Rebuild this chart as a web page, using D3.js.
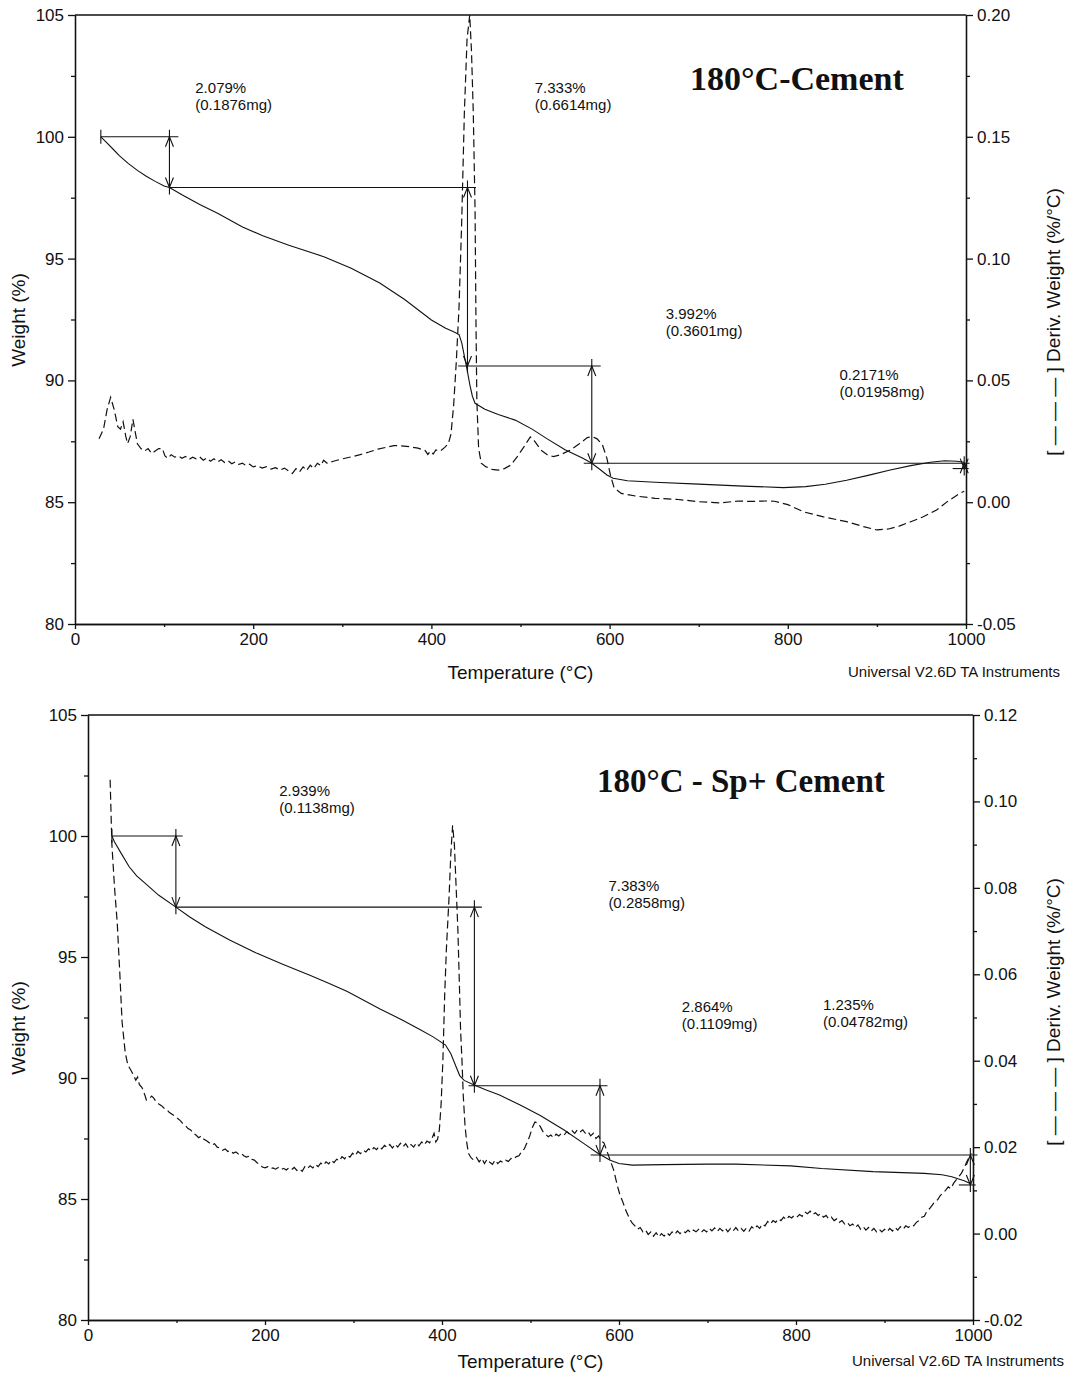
<!DOCTYPE html>
<html>
<head>
<meta charset="utf-8">
<script src="https://cdn.jsdelivr.net/npm/d3@7"></script>
<style>
body { margin: 0; background: #fff; }
</style>
</head>
<body>
<div id="chart"></div>
<script>
// shared ticks
let tempTicks = [0, 200, 400, 600, 800, 1000];
let tempMinor = [100, 300, 500, 700, 900];
let weightTicks = [80, 85, 90, 95, 100, 105];
let weightMinor = [82.5, 87.5, 92.5, 97.5, 102.5];

// ---- top panel: 180°C-Cement ----
let derivTicksA = [-0.05, 0, 0.05, 0.10, 0.15, 0.20];
let derivMinorA = [-0.025, 0.025, 0.075, 0.125, 0.175];

// weight (%) vs temperature (°C)
let tgaA = [[29,100.0],[35,99.78],[42,99.52],[50,99.22],[60,98.9],[70,98.62],[80,98.38],[90,98.17],[100,97.98],[106,97.92],
  [120,97.62],[140,97.22],[160,96.86],[188,96.3],[210,95.95],[240,95.55],[280,95.07],[310,94.6],[342,94.0],[370,93.32],
  [400,92.48],[416,92.14],[425,92.0],[431,91.88],[434,91.55],[437,91.0],[440,90.45],[443,89.85],[446,89.35],[449,89.06],
  [460,88.82],[475,88.6],[494,88.37],[513,88.0],[530,87.6],[550,87.15],[570,86.8],[580,86.6],[590,86.32],[597,86.12],
  [604,85.98],[620,85.88],[651,85.82],[700,85.74],[750,85.66],[795,85.6],[820,85.64],[842,85.74],[866,85.9],[890,86.1],
  [915,86.32],[938,86.5],[960,86.64],[976,86.7],[990,86.68],[998,86.64]];

// deriv. weight (%/°C) vs temperature
let dtgA = [[27,0.026],[32,0.030],[36,0.038],[40,0.043],[44,0.038],[48,0.031],[51,0.030],[54,0.033],[57,0.027],[59,0.024],
  [62,0.027],[65,0.034],[67,0.030],[70,0.024],[74,0.022],[78,0.021],[82,0.022],[86,0.020],[90,0.021],[94,0.022],
  [98,0.022],[101,0.019],[104,0.018],[108,0.0195],[112,0.0185],[116,0.019],[120,0.018],[124,0.0188],[128,0.0175],[132,0.0185],
  [136,0.0178],[140,0.0186],[144,0.0172],[148,0.0182],[152,0.0168],[156,0.0178],[160,0.0165],[164,0.0174],[168,0.0163],[172,0.0170],
  [176,0.0158],[180,0.0166],[184,0.0155],[188,0.0160],[192,0.0150],[196,0.0156],[200,0.0145],[205,0.0150],[210,0.0140],[215,0.0146],
  [220,0.0136],[225,0.0142],[230,0.0132],[235,0.0140],[240,0.0128],[244,0.0118],[248,0.0138],[252,0.0125],[256,0.0145],[260,0.0130],
  [264,0.0152],[268,0.0138],[272,0.0160],[276,0.0150],[279,0.0172],[283,0.0160],[290,0.0168],[300,0.0178],[310,0.0186],[320,0.0195],
  [330,0.0206],[340,0.0218],[350,0.0226],[358,0.0232],[365,0.0232],[375,0.0228],[385,0.0222],[393,0.0212],[396,0.0196],[399,0.0210],
  [402,0.0198],[405,0.0215],[410,0.0210],[415,0.0225],[419,0.024],[422,0.028],[425,0.040],[428,0.058],[431,0.080],[434,0.115],
  [437,0.160],[440,0.190],[443,0.200],[445,0.185],[447,0.160],[449,0.120],[450,0.075],[451,0.042],[453,0.022],[456,0.016],
  [461,0.0146],[468,0.0135],[475,0.0132],[482,0.0138],[489,0.0152],[496,0.0185],[504,0.0228],[511,0.0268],[516,0.025],[523,0.0214],
  [530,0.0195],[537,0.0187],[545,0.0195],[556,0.0214],[566,0.024],[575,0.0265],[580,0.0270],[586,0.026],[592,0.0235],[597,0.018],
  [601,0.011],[605,0.006],[613,0.0036],[630,0.0025],[651,0.0016],[675,0.0012],[700,0.0002],[723,-0.0003],[745,0.0005],[760,0.0003],
  [775,0.0005],[785,0.0004],[800,-0.001],[818,-0.004],[840,-0.006],[866,-0.008],[885,-0.010],[900,-0.0114],[913,-0.011],[925,-0.0098],
  [938,-0.008],[952,-0.006],[967,-0.0032],[980,0.0005],[993,0.0036],[998,0.0045]];

// step analysis: arrow temperature, upper/lower weight, upper line span, label text and anchor (°C, %)
let stepsA = [
  {t: 106, hi: 100.0, lo: 97.92, from: 29, to: 116, pct: '2.079%', mg: '(0.1876mg)', lt: 135, lw: 101.8},
  {t: 440.5, hi: 97.92, lo: 90.59, from: 106, to: 450, pct: '7.333%', mg: '(0.6614mg)', lt: 516, lw: 101.8},
  {t: 580, hi: 90.59, lo: 86.60, from: 430, to: 590, pct: '3.992%', mg: '(0.3601mg)', lt: 663, lw: 92.52},
  {t: 998, hi: 86.60, lo: 86.38, from: 571, to: 1004, pct: '0.2171%', mg: '(0.01958mg)', lt: 858, lw: 90.02}
];
let tailA = {lo: 86.38, from: 985, to: 1003};

// ---- bottom panel: 180°C - Sp+ Cement ----
let derivTicksB = [-0.02, 0, 0.02, 0.04, 0.06, 0.08, 0.10, 0.12];
let derivMinorB = [-0.01, 0.01, 0.03, 0.05, 0.07, 0.09, 0.11];

let tgaB = [[27,100.0],[30,99.75],[38,99.25],[46.5,98.73],[55,98.35],[66,98.0],[80,97.55],[99.3,97.06],[115,96.65],[132.5,96.25],
  [160,95.7],[191,95.15],[220,94.7],[250,94.26],[270,93.95],[293,93.57],[330,92.85],[355,92.4],[375,92.0],[390,91.7],
  [404,91.36],[410,91.0],[415,90.55],[420,90.1],[425,89.9],[437,89.7],[450,89.5],[465,89.3],[490,88.85],[511,88.45],
  [538,87.85],[560,87.3],[576.5,86.88],[590,86.6],[600,86.47],[615,86.4],[650,86.42],[700,86.44],[732,86.44],[794,86.37],
  [829,86.26],[887,86.13],[945,86.06],[965,86.0],[976,85.92],[990,85.75],[998,85.62]];

let dtgB = [[25,0.105],[27,0.090],[30,0.080],[33,0.072],[36,0.060],[38.5,0.049],[42,0.042],[45,0.039],[48.5,0.0378],[51,0.0368],
  [54,0.0355],[56,0.0362],[58,0.0345],[61,0.0338],[64,0.0322],[66,0.0309],[69,0.0312],[72,0.0318],[74,0.0314],[77,0.0305],
  [80,0.0300],[83,0.0296],[86,0.0290],[89,0.0287],[92,0.0280],[95,0.0276],[98,0.0272],[101,0.0267],[104,0.0262],[107,0.0255],
  [110,0.0250],[113,0.0243],[116,0.0240],[119,0.0232],[122,0.0228],[125,0.0222],[128,0.0226],[131,0.0218],[134,0.0215],[137,0.0210],
  [140,0.0205],[143,0.0208],[146,0.0200],[149,0.0198],[152,0.0193],[155,0.0196],[158,0.0190],[161,0.0192],[164,0.0186],[167,0.0189],
  [170,0.0184],[173,0.0186],[176,0.0180],[179,0.0177],[182,0.0179],[185,0.0172],[188,0.0170],[191,0.0164],[194,0.0160],[197,0.0154],
  [200,0.0152],[203,0.0155],[206,0.0150],[209,0.0152],[212,0.0149],[215,0.0153],[218,0.0148],[221,0.0151],[224,0.0147],[227,0.0152],
  [230,0.0148],[233,0.0153],[236,0.0146],[239,0.0150],[242,0.0144],[245,0.0155],[248,0.0150],[251,0.0157],[254,0.0152],[257,0.0160],
  [260,0.0155],[263,0.0163],[266,0.0158],[269,0.0166],[272,0.0161],[275,0.0170],[278,0.0164],[281,0.0172],[284,0.0168],[287,0.0178],
  [290,0.0173],[293,0.0181],[296,0.0177],[299,0.0186],[302,0.0180],[305,0.0190],[308,0.0185],[311,0.0193],[314,0.0189],[317,0.0196],
  [320,0.0191],[323,0.0199],[326,0.0194],[329,0.0202],[332,0.0196],[335,0.0204],[338,0.0199],[341,0.0206],[344,0.0198],[347,0.0207],
  [350,0.0200],[353,0.0209],[356,0.0201],[359,0.0208],[362,0.0198],[365,0.0206],[368,0.0200],[371,0.0210],[374,0.0203],[377,0.0212],
  [380,0.0205],[383,0.0214],[386,0.0210],[389,0.0222],[391,0.0232],[393,0.0212],[395,0.0218],[397,0.0240],[399,0.030],[401,0.040],
  [403,0.055],[405,0.066],[408,0.078],[410,0.088],[412,0.0945],[414,0.090],[416,0.080],[418,0.070],[420,0.055],[421,0.047],
  [422.6,0.040],[424,0.032],[426,0.025],[428,0.021],[430,0.0185],[433,0.0175],[436,0.0170],[439,0.0176],[442,0.0166],[445,0.0174],
  [448,0.0162],[451,0.0172],[454,0.0165],[457,0.0160],[460,0.0170],[463,0.0162],[466,0.0168],[469,0.0164],[472,0.0170],[475,0.0167],
  [478,0.0174],[481,0.0172],[484,0.0178],[487,0.0180],[490,0.0190],[493,0.0196],[496,0.0210],[499,0.0225],[502,0.0245],[505,0.0258],
  [508,0.0256],[511,0.0248],[514,0.0236],[517,0.0230],[520,0.0224],[523,0.0228],[526,0.0222],[529,0.0230],[532,0.0226],[535,0.0232],
  [538,0.0228],[541,0.0236],[544,0.0230],[547,0.0238],[550,0.0232],[553,0.0240],[556,0.0235],[559,0.0240],[562,0.0232],[565,0.0236],
  [568,0.0226],[571,0.0232],[574,0.0220],[577,0.0226],[580,0.0214],[583,0.0210],[586,0.0193],[590,0.0170],[594,0.0147],[598,0.0112],
  [601,0.0090],[604,0.0075],[608,0.0052],[612,0.0034],[615,0.0024],[618,0.0018],[621,0.0010],[624,0.0014],[627,0.0004],[630,0.0008],
  [633,-0.0002],[636,0.0004],[639,-0.0006],[642,0.0002],[645,-0.0008],[648,0.0000],[651,-0.0006],[654,0.0002],[657,-0.0004],[660,0.0004],
  [663,-0.0002],[666,0.0006],[669,0.0000],[672,0.0006],[675,0.0002],[678,0.0008],[681,0.0002],[684,0.0008],[687,0.0004],[690,0.0010],
  [693,0.0003],[696,0.0009],[699,0.0004],[702,0.0012],[705,0.0006],[708,0.0013],[711,0.0005],[714,0.0012],[717,0.0006],[720,0.0013],
  [723,0.0004],[726,0.0012],[729,0.0006],[732,0.0014],[735,0.0006],[738,0.0012],[741,0.0005],[744,0.0013],[747,0.0006],[750,0.0016],
  [753,0.0010],[756,0.0018],[759,0.0012],[762,0.0022],[765,0.0018],[768,0.0028],[771,0.0022],[774,0.0030],[777,0.0026],[780,0.0034],
  [783,0.0030],[786,0.0038],[789,0.0032],[792,0.0040],[795,0.0036],[798,0.0042],[801,0.0038],[804,0.0044],[807,0.0040],[810,0.0050],
  [813,0.0046],[816,0.0052],[819,0.0044],[822,0.0048],[825,0.0042],[828,0.0046],[831,0.0038],[834,0.0042],[837,0.0034],[840,0.0038],
  [843,0.0030],[846,0.0034],[849,0.0026],[852,0.0030],[855,0.0022],[858,0.0026],[861,0.0018],[864,0.0022],[867,0.0014],[870,0.0020],
  [873,0.0010],[876,0.0016],[879,0.0008],[882,0.0014],[885,0.0006],[888,0.0012],[891,0.0004],[894,0.0010],[897,0.0004],[900,0.0010],
  [903,0.0004],[906,0.0012],[909,0.0006],[912,0.0014],[915,0.0008],[918,0.0016],[921,0.0010],[924,0.0018],[927,0.0014],[930,0.0020],
  [933,0.0018],[936,0.0026],[939,0.0030],[942,0.0038],[945,0.0040],[948,0.0052],[951,0.0058],[954,0.0066],[957,0.0074],[960,0.0078],
  [963,0.0088],[966,0.0094],[969,0.0100],[972,0.0108],[975,0.0104],[978,0.0116],[981,0.0124],[984,0.0132],[987,0.0140],[990,0.0152],
  [993,0.0166],[996,0.0178],[998,0.0186]];

let stepsB = [
  {t: 99.3, hi: 100.0, lo: 97.06, from: 27, to: 107, pct: '2.939%', mg: '(0.1138mg)', lt: 216, lw: 101.65},
  {t: 436.6, hi: 97.06, lo: 89.68, from: 99, to: 445, pct: '7.383%', mg: '(0.2858mg)', lt: 588, lw: 97.73},
  {t: 578.5, hi: 89.68, lo: 86.82, from: 430, to: 587, pct: '2.864%', mg: '(0.1109mg)', lt: 671, lw: 92.73},
  {t: 997, hi: 86.82, lo: 85.58, from: 568, to: 1005, pct: '1.235%', mg: '(0.04782mg)', lt: 830.5, lw: 92.81}
];
let tailB = {lo: 85.58, from: 984, to: 1003};

//dimensions
let w = 1067;
let h = 1375;
let sans = "'Liberation Sans', Arial, Helvetica, sans-serif";
let serif = "'Liberation Serif', 'Times New Roman', serif";

let svg = d3.select('#chart').
append('svg').
attr('width', w).
attr('height', h).
style('background', '#fff');

function styleAxis(g, size) {
  g.selectAll('path, line').attr('stroke', '#111').attr('stroke-width', 1.3);
  g.selectAll('text').attr('font-family', sans).attr('font-size', size).attr('fill', '#111');
}

function panel(cfg) {
  let x = d3.scaleLinear().domain([0, 1000]).range(cfg.xr);
  let yW = d3.scaleLinear().domain([80, 105]).range(cfg.yr);
  let yD = d3.scaleLinear().domain(cfg.dd).range(cfg.yr);
  let g = svg.append('g');

  g.append('clipPath').attr('id', cfg.id).
  append('rect').
  attr('x', cfg.xr[0]).attr('y', cfg.yr[1]).
  attr('width', cfg.xr[1] - cfg.xr[0]).attr('height', cfg.yr[0] - cfg.yr[1]);

  //left axis
  let left = g.append('g').attr('transform', 'translate(' + cfg.xr[0] + ',0)');
  left.call(d3.axisLeft(yW).tickValues(weightTicks).tickSize(7).tickPadding(4).tickSizeOuter(0));
  styleAxis(left, 17);
  let leftMinor = g.append('g').attr('transform', 'translate(' + cfg.xr[0] + ',0)');
  leftMinor.call(d3.axisLeft(yW).tickValues(weightMinor).tickSize(4).tickFormat('').tickSizeOuter(0));
  styleAxis(leftMinor, 17);

  //bottom axis
  let bottom = g.append('g').attr('transform', 'translate(0,' + cfg.yr[0] + ')');
  bottom.call(d3.axisBottom(x).tickValues(tempTicks).tickSize(5).tickPadding(4).tickFormat(d3.format('d')).tickSizeOuter(0));
  styleAxis(bottom, 17);
  let bottomMinor = g.append('g').attr('transform', 'translate(0,' + cfg.yr[0] + ')');
  bottomMinor.call(d3.axisBottom(x).tickValues(tempMinor).tickSize(3).tickFormat('').tickSizeOuter(0));
  styleAxis(bottomMinor, 17);

  //right axis
  let right = g.append('g').attr('transform', 'translate(' + cfg.xr[1] + ',0)');
  right.call(d3.axisRight(yD).tickValues(cfg.dt).tickSize(7).tickPadding(4).tickFormat(d => d.toFixed(2)).tickSizeOuter(0));
  styleAxis(right, 17);
  let rightMinor = g.append('g').attr('transform', 'translate(' + cfg.xr[1] + ',0)');
  rightMinor.call(d3.axisRight(yD).tickValues(cfg.dm).tickSize(4).tickFormat('').tickSizeOuter(0));
  styleAxis(rightMinor, 17);

  //top frame
  g.append('line').
  attr('x1', cfg.xr[0]).attr('x2', cfg.xr[1]).
  attr('y1', cfg.yr[1]).attr('y2', cfg.yr[1]).
  attr('stroke', '#111').attr('stroke-width', 1.3);

  //curves
  let plot = g.append('g').attr('clip-path', 'url(#' + cfg.id + ')');
  plot.append('path').
  datum(cfg.tga).
  attr('d', d3.line().x(d => x(d[0])).y(d => yW(d[1]))).
  attr('fill', 'none').attr('stroke', '#111').attr('stroke-width', 1.1);

  plot.append('path').
  datum(cfg.dtg).
  attr('d', d3.line().x(d => x(d[0])).y(d => yD(d[1]))).
  attr('fill', 'none').attr('stroke', '#111').attr('stroke-width', 1.2).
  attr('stroke-dasharray', '8,4');

  //step analysis marks
  let ann = g.append('g').attr('stroke', '#111').attr('stroke-width', 1.1).attr('fill', 'none');
  let head = (px, py, dir) => 'M' + (px - 4) + ',' + (py - dir * 10) + 'L' + px + ',' + py + 'L' + (px + 4) + ',' + (py - dir * 10);

  let first = cfg.steps[0];
  ann.append('line').
  attr('x1', x(first.from)).attr('x2', x(first.from)).
  attr('y1', yW(first.hi) - 7).attr('y2', yW(first.hi) + 7);

  cfg.steps.forEach(s => {
    ann.append('line').
    attr('x1', x(s.from)).attr('x2', x(s.to)).
    attr('y1', yW(s.hi)).attr('y2', yW(s.hi));
    ann.append('line').
    attr('x1', x(s.t)).attr('x2', x(s.t)).
    attr('y1', yW(s.hi) - 7).attr('y2', yW(s.lo) + 7);
    ann.append('path').attr('d', head(x(s.t), yW(s.hi), -1));
    ann.append('path').attr('d', head(x(s.t), yW(s.lo), 1));

    g.append('text').
    attr('x', x(s.lt)).attr('y', yW(s.lw)).
    attr('font-family', sans).attr('font-size', 15).attr('fill', '#111').
    text(s.pct);
    g.append('text').
    attr('x', x(s.lt)).attr('y', yW(s.lw) + 17).
    attr('font-family', sans).attr('font-size', 15).attr('fill', '#111').
    text(s.mg);
  });

  ann.append('line').
  attr('x1', x(cfg.tail.from)).attr('x2', x(cfg.tail.to)).
  attr('y1', yW(cfg.tail.lo)).attr('y2', yW(cfg.tail.lo));

  //titles and axis labels
  g.append('text').
  attr('x', cfg.titleX).attr('y', cfg.titleY).
  attr('font-family', serif).attr('font-weight', 'bold').attr('font-size', cfg.titleSize).attr('fill', '#111').
  text(cfg.title);

  g.append('text').
  attr('x', (cfg.xr[0] + cfg.xr[1]) / 2).attr('y', cfg.tempY).
  attr('text-anchor', 'middle').
  attr('font-family', sans).attr('font-size', 19).attr('fill', '#111').
  text('Temperature (°C)');

  g.append('text').
  attr('transform', 'translate(25,' + cfg.weightY + ') rotate(-90)').
  attr('text-anchor', 'middle').
  attr('font-family', sans).attr('font-size', 19).attr('fill', '#111').
  text('Weight (%)');

  g.append('text').
  attr('transform', 'translate(1060,' + cfg.rightY + ') rotate(-90)').
  attr('text-anchor', 'middle').
  attr('font-family', sans).attr('font-size', 19).attr('fill', '#111').
  text('[ — — — ] Deriv. Weight (%/°C)');

  g.append('text').
  attr('x', cfg.instX).attr('y', cfg.tempY - 2).
  attr('font-family', sans).attr('font-size', 15).attr('fill', '#111').
  text('Universal V2.6D TA Instruments');
}

panel({
  id: 'clipA', xr: [75, 966], yr: [624, 15], dd: [-0.05, 0.20],
  dt: derivTicksA, dm: derivMinorA, tga: tgaA, dtg: dtgA, steps: stepsA, tail: tailA,
  title: '180°C-Cement', titleX: 690, titleY: 90, titleSize: 34, rightY: 322, instX: 848,
  tempY: 679, weightY: 320
});

panel({
  id: 'clipB', xr: [88, 973], yr: [1320, 715], dd: [-0.02, 0.12],
  dt: derivTicksB, dm: derivMinorB, tga: tgaB, dtg: dtgB, steps: stepsB, tail: tailB,
  title: '180°C - Sp+ Cement', titleX: 597, titleY: 792, titleSize: 33, rightY: 1012, instX: 852,
  tempY: 1368, weightY: 1028
});
</script>
</body>
</html>
